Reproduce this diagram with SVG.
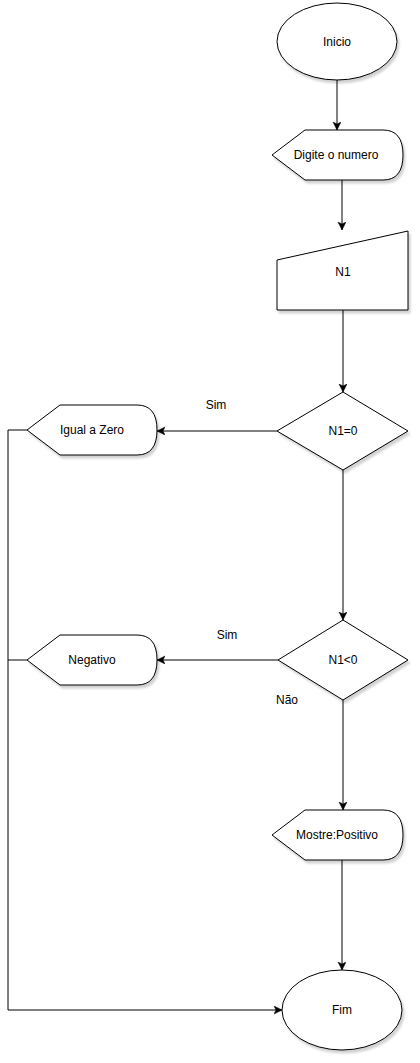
<svg xmlns="http://www.w3.org/2000/svg" width="420" height="1063" viewBox="0 0 420 1063">
<style>
.s{fill:#fff;stroke:#000;stroke-width:1;filter:url(#sh)}
.t{font-family:"Liberation Sans",Arial,Helvetica,sans-serif;font-size:12px;fill:#000;text-anchor:middle;dominant-baseline:central}
.c{fill:none;stroke:#000;stroke-width:1}
.a{marker-end:url(#arr)}
</style>
<defs>
<filter id="sh" x="-10%" y="-10%" width="130%" height="130%">
<feDropShadow dx="2" dy="3" stdDeviation="1.2" flood-color="#000" flood-opacity="0.18"/>
</filter>
<marker id="arr" markerUnits="userSpaceOnUse" markerWidth="10" markerHeight="10" refX="8" refY="4" orient="auto">
<path d="M0,0 L8,4 L0,8 L2,4 Z" fill="#000" stroke="#000" stroke-width="0.5"/>
</marker>
</defs>
<rect width="420" height="1063" fill="#fff"/>
<g id="connectors">
<path class="c a" d="M337 80 V130"/>
<path class="c a" d="M342 180 V230"/>
<path class="c a" d="M343 310 V392"/>
<path class="c a" d="M277 431 H157"/>
<path class="c a" d="M343 470 V620"/>
<path class="c a" d="M278 660 H157"/>
<path class="c a" d="M343 700 V810"/>
<path class="c a" d="M342 860 V970"/>
<path class="c a" d="M27 430 H8 V1010 H282"/>
<path class="c" d="M27 660 H8"/>
</g>
<g id="inicio">
<ellipse class="s" cx="337" cy="41.5" rx="60" ry="38.5"/>
<text class="t" x="337" y="41.5">Inicio</text>
</g>
<g id="digite">
<path class="s" d="M272 155 L305 130 L383 130 Q403 130 403 155 Q403 180 383 180 L305 180 Z"/>
<text class="t" x="336" y="155">Digite o numero</text>
</g>
<g id="n1">
<path class="s" d="M277 260 L408 231 L408 310 L277 310 Z"/>
<text class="t" x="343" y="272">N1</text>
</g>
<g id="dec1">
<path class="s" d="M343 392 L408 431 L343 470 L277 431 Z"/>
<text class="t" x="343" y="431">N1=0</text>
</g>
<g id="igual">
<path class="s" d="M27 430 L60 405 L137 405 Q157 405 157 430 Q157 455 137 455 L60 455 Z"/>
<text class="t" x="92" y="430">Igual a Zero</text>
</g>
<g id="lbl-sim1">
<text class="t" x="216" y="405">Sim</text>
</g>
<g id="dec2">
<path class="s" d="M343 620 L408 660 L343 700 L278 660 Z"/>
<text class="t" x="343" y="660">N1&lt;0</text>
</g>
<g id="negativo">
<path class="s" d="M27 660 L60 635 L137 635 Q157 635 157 660 Q157 685 137 685 L60 685 Z"/>
<text class="t" x="92" y="660">Negativo</text>
</g>
<g id="lbl-sim2">
<text class="t" x="227" y="635">Sim</text>
</g>
<g id="lbl-nao">
<text class="t" x="287" y="700">Não</text>
</g>
<g id="positivo">
<path class="s" d="M272 835 L305 810 L383 810 Q403 810 403 835 Q403 860 383 860 L305 860 Z"/>
<text class="t" x="337" y="835">Mostre:Positivo</text>
</g>
<g id="fim">
<ellipse class="s" cx="342" cy="1010" rx="60" ry="40"/>
<text class="t" x="342" y="1010">Fim</text>
</g>
</svg>
